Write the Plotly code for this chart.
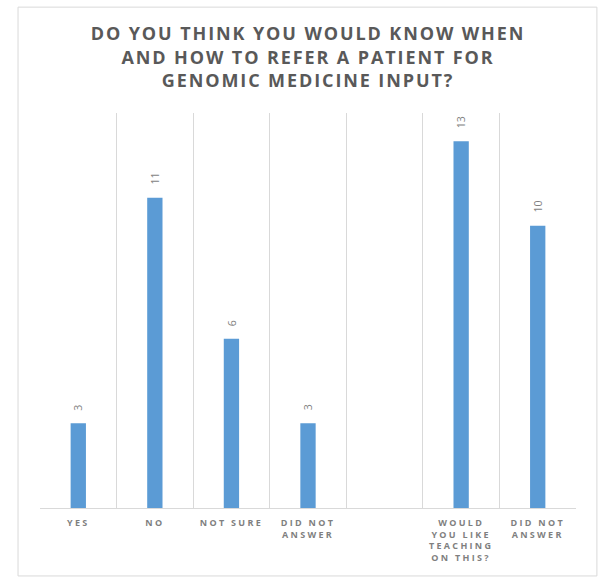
import plotly.graph_objects as go

# Survey responses; the blank slot separates the two questions
categories = ["YES", "NO", "NOT SURE", "DID NOT<br>ANSWER", "",
              "WOULD<br>YOU LIKE<br>TEACHING<br>ON THIS?", "DID NOT<br>ANSWER"]
counts = [3, 11, 6, 3, None, 13, 10]

title_text = ("DO YOU THINK YOU WOULD KNOW WHEN<br>"
              "AND HOW TO REFER A PATIENT FOR<br>"
              "GENOMIC MEDICINE INPUT?")

positions = list(range(len(categories)))
bar_x = [p for p, v in zip(positions, counts) if v is not None]
bar_y = [v for v in counts if v is not None]
boundaries = [p - 0.5 for p in positions] + [positions[-1] + 0.5]

GRID = "#d9d9d9"
TEXT = "#595959"
LABEL = "#7f7f7f"
BAR = "#5b9bd5"

fig = go.Figure(
    go.Bar(
        x=bar_x,
        y=bar_y,
        width=0.2,
        marker=dict(color=BAR, line=dict(width=0)),
        hoverinfo="skip",
    )
)

# value labels, rotated and set a little above each bar
for xv, yv in zip(bar_x, bar_y):
    fig.add_annotation(
        x=xv, y=yv, text=str(yv), showarrow=False,
        textangle=-90, xanchor="center", yanchor="bottom", yshift=11,
        font=dict(family="Open Sans", size=10.5, color=LABEL),
    )

fig.update_layout(
    width=599,
    height=577,
    margin=dict(l=40, r=23, t=113, b=69),
    paper_bgcolor="white",
    plot_bgcolor="white",
    showlegend=False,
    font=dict(family="Open Sans", color=TEXT),
    title=dict(
        text=title_text,
        x=0.5,
        xref="paper",
        xanchor="center",
        y=0.93,
        yref="container",
        yanchor="middle",
        font=dict(family="Open Sans", size=18, color=TEXT, weight="bold"),
    ),
    xaxis=dict(
        range=[-0.5, positions[-1] + 0.5],
        tickmode="array",
        tickvals=positions,
        ticktext=categories,
        ticks="",
        showgrid=False,
        zeroline=False,
        showline=True,
        linecolor=GRID,
        linewidth=1,
        ticklabelstandoff=6,
        tickfont=dict(family="Open Sans", size=9, color=LABEL, weight="bold"),
        minor=dict(tickvals=boundaries, showgrid=True, gridcolor=GRID,
                   gridwidth=1, ticks=""),
        fixedrange=True,
    ),
    yaxis=dict(
        range=[0, 14],
        visible=False,
        showgrid=False,
        zeroline=False,
        fixedrange=True,
    ),
    shapes=[
        # outer chart frame
        dict(type="rect", xref="paper", yref="paper",
             x0=-0.041, x1=1.039, y0=-0.172, y1=1.268,
             line=dict(color=GRID, width=1), fillcolor="rgba(0,0,0,0)",
             layer="below"),
    ],
)

spacing_js = (
    "document.querySelectorAll('.xtick text').forEach(function(e){e.style.letterSpacing='2.3px';});"
    "document.querySelectorAll('.gtitle').forEach(function(e){e.style.letterSpacing='1.9px';});"
)

fig.write_html("out.html", post_script=spacing_js)
